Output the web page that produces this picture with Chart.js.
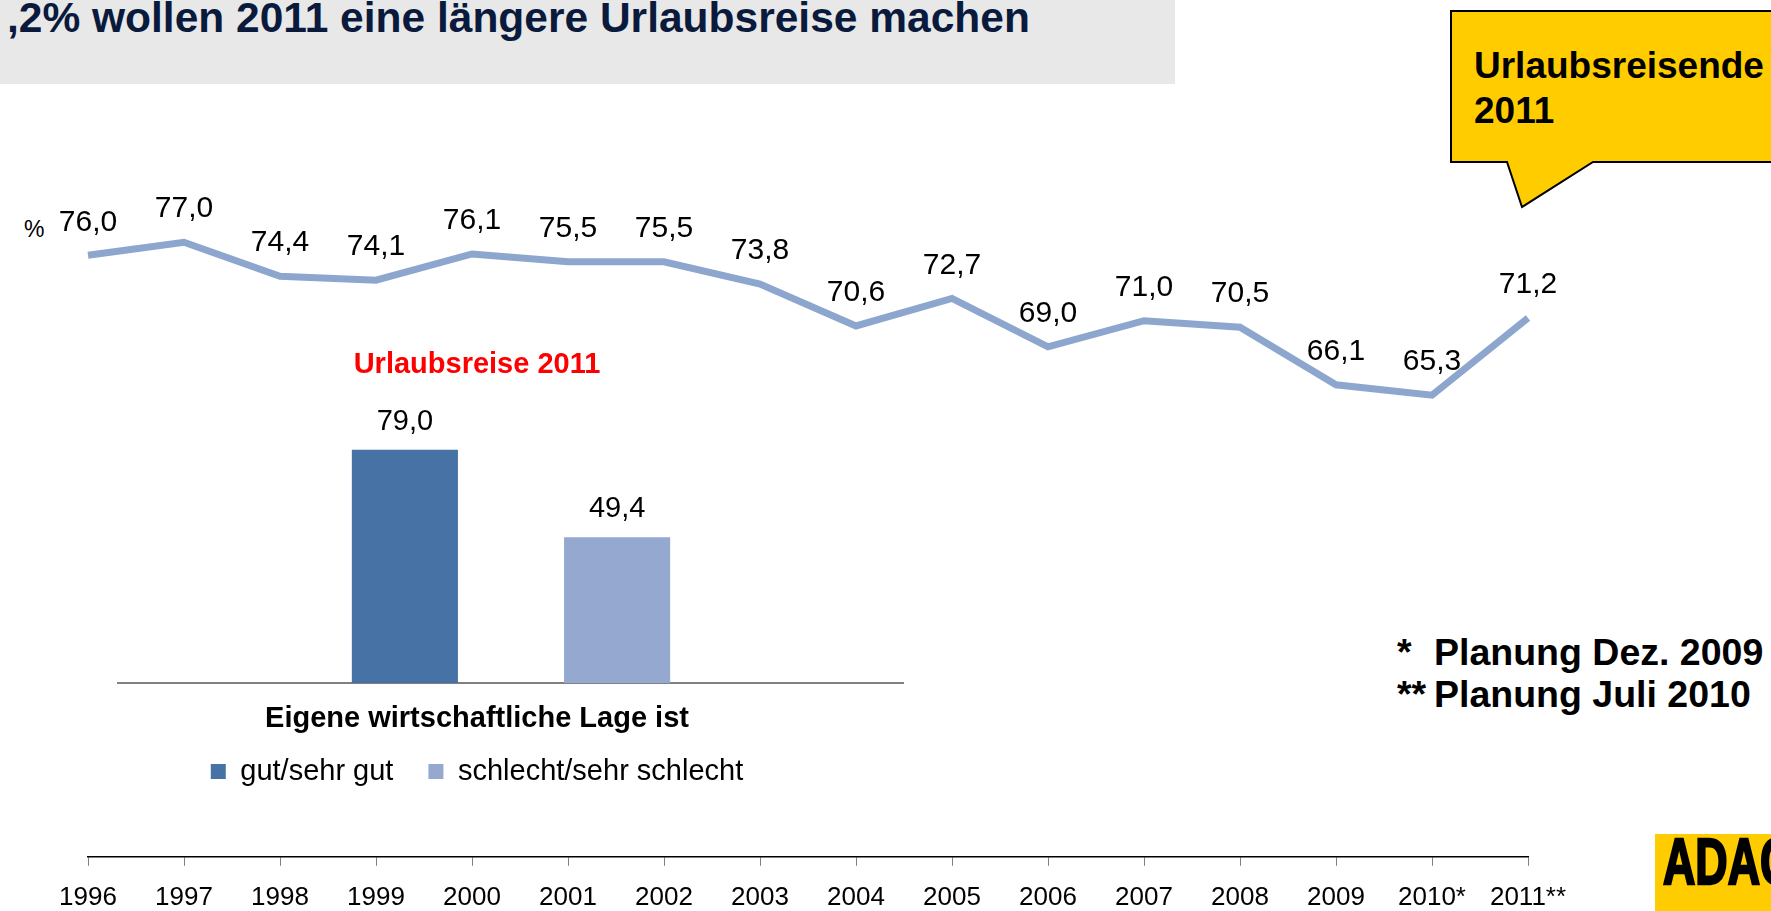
<!DOCTYPE html>
<html>
<head>
<meta charset="utf-8">
<script src="https://cdn.jsdelivr.net/npm/chart.js@4.4.1/dist/chart.umd.min.js"></script>
<style>
  html, body { margin: 0; padding: 0; background: #fff; }
  body { width: 1771px; height: 911px; position: relative; overflow: hidden; font-family: "Liberation Sans", Arial, sans-serif; }
  svg, canvas { position: absolute; }
</style>
</head>
<body>
<svg width="1771" height="911" style="left:0;top:0" font-family="Liberation Sans, Arial, sans-serif">
  <rect x="0" y="0" width="1175" height="84" fill="#e8e8e8"/>
  <text x="7" y="32" font-size="42.5" font-weight="bold" fill="#0a1a3c">,2% wollen 2011 eine längere Urlaubsreise machen</text>

  <path d="M1451,11 L1776,11 L1776,162 L1593,162 L1522,207 L1507,162 L1451,162 Z" fill="#ffcc00" stroke="#000" stroke-width="2"/>
  <text x="1474" y="78" font-size="37" font-weight="bold" fill="#000">Urlaubsreisende</text>
  <text x="1474" y="123" font-size="37" font-weight="bold" fill="#000">2011</text>

  <text x="24" y="237" font-size="23" fill="#000">%</text>

  <text x="1397" y="665" font-size="37.5" font-weight="bold" fill="#000">*</text>
  <text x="1434" y="665" font-size="37.5" font-weight="bold" fill="#000">Planung Dez. 2009</text>
  <text x="1397" y="707" font-size="37.5" font-weight="bold" fill="#000">**</text>
  <text x="1434" y="707" font-size="37.5" font-weight="bold" fill="#000">Planung Juli 2010</text>

  <rect x="1655" y="834" width="120" height="80" fill="#ffcc00"/>
  <text transform="translate(1663,884) scale(0.7,1)" font-size="64" font-weight="bold" fill="#000" stroke="#000" stroke-width="2.5">ADAC</text>
</svg>
<canvas id="lineChart" width="1771" height="927" style="left:0;top:0"></canvas>
<canvas id="barChart" width="854" height="466" style="left:50px;top:330px"></canvas>
<script>
// Urlaubsreisende in %, 1996 - 2011
const years = ['1996', '1997', '1998', '1999', '2000', '2001', '2002', '2003',
               '2004', '2005', '2006', '2007', '2008', '2009', '2010*', '2011**'];
const travelShare = [76.0, 77.0, 74.4, 74.1, 76.1, 75.5, 75.5, 73.8,
                     70.6, 72.7, 69.0, 71.0, 70.5, 66.1, 65.3, 71.2];

// Urlaubsreise 2011 nach eigener wirtschaftlicher Lage
const situationLabels = ['gut/sehr gut', 'schlecht/sehr schlecht'];
const situationValues = [79.0, 49.4];

const FONT = '"Liberation Sans", Arial, sans-serif';

// Werte über die Punkte / Balken schreiben (Komma als Dezimaltrenner)
const valueLabels = {
    id: 'valueLabels',
    afterDatasetsDraw(chart, args, opts) {
        const ctx = chart.ctx;
        ctx.save();
        ctx.font = opts.font;
        ctx.fillStyle = '#000';
        ctx.textAlign = 'center';
        ctx.textBaseline = 'middle';
        chart.data.datasets.forEach((ds, i) => {
            chart.getDatasetMeta(i).data.forEach((el, j) => {
                const text = ds.data[j].toFixed(1).replace('.', ',');
                ctx.fillText(text, el.x, el.y - opts.offset);
            });
        });
        ctx.restore();
    }
};

new Chart(document.getElementById('lineChart'), {
    type: 'line',
    data: {
        labels: years,
        datasets: [{
            data: travelShare,
            borderColor: '#8da6ce',
            borderWidth: 7,
            borderJoinStyle: 'miter',
            pointRadius: 0,
            tension: 0,
            fill: false,
            clip: false
        }]
    },
    options: {
        responsive: false,
        animation: false,
        layout: { padding: { left: 88, right: 243, top: 203, bottom: 0 } },
        plugins: {
            legend: { display: false },
            tooltip: { enabled: false },
            valueLabels: { font: '30px ' + FONT, offset: 33 }
        },
        scales: {
            x: {
                offset: false,
                grid: { drawOnChartArea: false, drawTicks: true, tickLength: 9, color: '#808080' },
                border: { color: '#000', width: 1.5 },
                ticks: { color: '#000', font: { family: FONT, size: 26 }, padding: 16, maxRotation: 0, autoSkip: false },
                afterFit(scale) { scale.height -= 2; }
            },
            y: { display: false, min: 30, max: 80 }
        }
    },
    plugins: [valueLabels]
});

new Chart(document.getElementById('barChart'), {
    type: 'bar',
    data: {
        labels: [''],
        datasets: situationLabels.map((label, i) => ({
            label: label,
            data: [situationValues[i]],
            backgroundColor: i === 0 ? '#4672a6' : '#95a9d0',
            categoryPercentage: 0.54,
            barPercentage: 0.5
        }))
    },
    options: {
        responsive: false,
        animation: false,
        layout: { padding: 0 },
        plugins: {
            title: {
                display: true,
                text: 'Urlaubsreise 2011',
                color: '#ff0000',
                font: { family: FONT, size: 29, weight: 'bold' },
                padding: { top: 18, bottom: 5 }
            },
            subtitle: {
                display: true,
                position: 'bottom',
                weight: 500,
                text: 'Eigene wirtschaftliche Lage ist',
                color: '#000',
                font: { family: FONT, size: 29, weight: 'bold' },
                padding: { top: 10, bottom: -14 }
            },
            legend: {
                position: 'bottom',
                labels: { boxWidth: 15, boxHeight: 15, padding: 35, color: '#000', font: { family: FONT, size: 29 } }
            },
            tooltip: { enabled: false },
            valueLabels: { font: '29px ' + FONT, offset: 28 }
        },
        scales: {
            x: {
                grid: { display: false },
                border: { color: '#808080', width: 2 },
                ticks: { display: false }
            },
            y: {
                min: 0,
                max: 100,
                grid: { display: false },
                border: { display: false },
                ticks: { display: false },
                afterFit(scale) { scale.width = 68; }
            }
        }
    },
    plugins: [valueLabels]
});
</script>
</body>
</html>
